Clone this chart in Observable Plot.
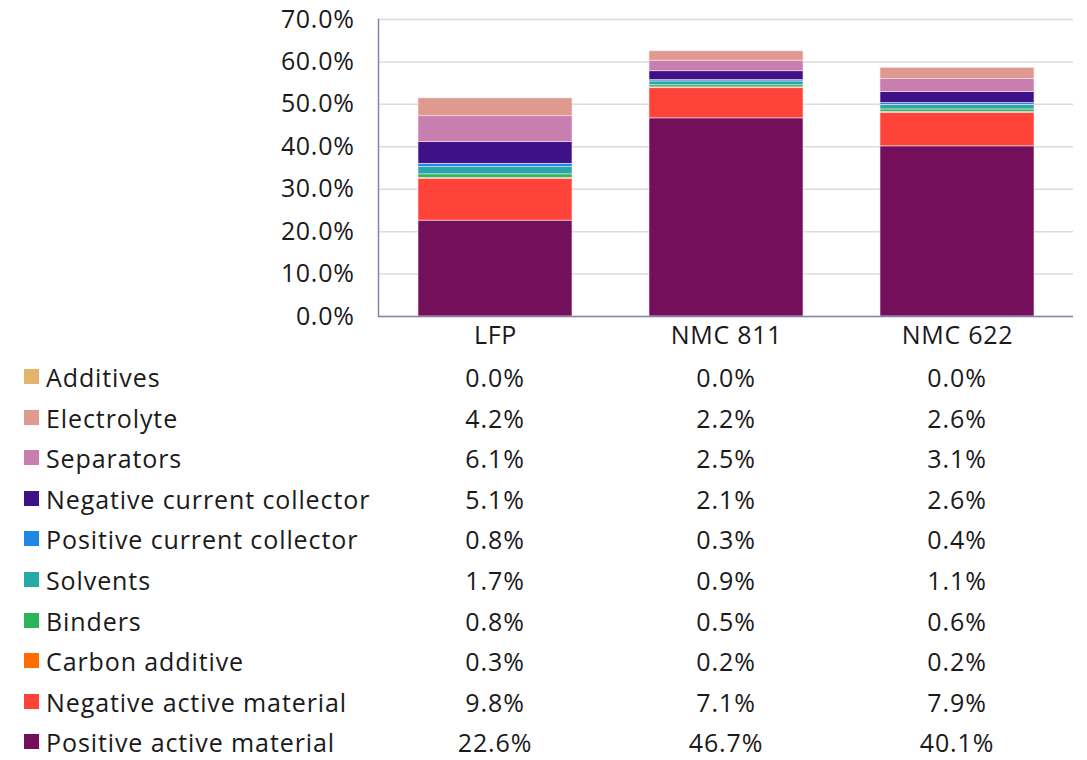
<!DOCTYPE html>
<html>
<head>
<meta charset="utf-8">
<script src="https://cdn.jsdelivr.net/npm/d3@7"></script>
<script src="https://cdn.jsdelivr.net/npm/@observablehq/plot@0.6"></script>
<style>
  body { margin: 0; background: #fff; font-family: "Open Sans", sans-serif; }
  #wrap { position: relative; width: 1087px; height: 760px; overflow: hidden; }
  .row { position: absolute; left: 0; width: 1087px; height: 26px; line-height: 26px; font-size: 25px; font-weight: 400; letter-spacing: 0.9px; color: #1a1a1a; }
  .sw { position: absolute; left: 24px; width: 15px; height: 15px; }
  .lab { position: absolute; left: 46px; top: 0; white-space: nowrap; }
  .val { position: absolute; top: 0; transform: translateX(-50%); white-space: nowrap; }
</style>
</head>
<body>
<div id="wrap"></div>
<script>
const chemistries = ["LFP", "NMC 811", "NMC 622"];
// legend/table order (top to bottom)
const components = ["Additives", "Electrolyte", "Separators", "Negative current collector",
  "Positive current collector", "Solvents", "Binders", "Carbon additive",
  "Negative active material", "Positive active material"];
const colors = ["#e2b46c", "#e0998f", "#c87fb0", "#3e1188", "#1e88e5", "#27a9a8",
  "#2bb558", "#ff6d00", "#ff4338", "#740f5b"];
const valuesLFP    = [0.0, 4.2, 6.1, 5.1, 0.8, 1.7, 0.8, 0.3, 9.8, 22.6];
const valuesNMC811 = [0.0, 2.2, 2.5, 2.1, 0.3, 0.9, 0.5, 0.2, 7.1, 46.7];
const valuesNMC622 = [0.0, 2.6, 3.1, 2.6, 0.4, 1.1, 0.6, 0.2, 7.9, 40.1];
const yTicks = [0, 10, 20, 30, 40, 50, 60, 70];

const series = [valuesLFP, valuesNMC811, valuesNMC622];
const data = [];
chemistries.forEach((c, i) => {
  // stack bottom-up: reverse of table order
  for (let k = components.length - 1; k >= 0; k--) {
    data.push({chem: c, comp: components[k], value: series[i][k] / 100, order: components.length - 1 - k});
  }
});

const fig = Plot.plot({
  width: 1087,
  height: 350,
  marginLeft: 378,
  marginRight: 14,
  marginTop: 19,
  marginBottom: 34,
  style: {fontFamily: "Open Sans, sans-serif", fontSize: "25px", letterSpacing: "0.7px", color: "#1a1a1a", background: "#fff", overflow: "visible"},
  x: {domain: chemistries, paddingInner: 0.335, paddingOuter: 0.1675, label: null},
  y: {domain: [0, 0.7], label: null},
  color: {domain: components, range: colors},
  marks: [
    Plot.gridY(yTicks.map(d => d / 100), {stroke: "#dcdcdc", strokeOpacity: 1, strokeWidth: 1.5}),
    Plot.barY(data, Plot.stackY({order: "order"}, {x: "chem", y: "value", fill: "comp", order: "order", stroke: "#fbe4ee", strokeWidth: 0.6})),
    Plot.axisY(yTicks.map(d => d / 100), {tickSize: 0, tickPadding: 24, tickFormat: d3.format(".1%"), fontSize: 25, label: null}),
    Plot.axisX({tickSize: 0, tickPadding: 10, fontSize: 25, label: null}),
    Plot.ruleY([0], {stroke: "#8784aa", strokeWidth: 1.5}),
    Plot.frame({anchor: "left", stroke: "#8784aa", strokeWidth: 1.5})
  ]
});
const wrap = document.getElementById("wrap");
wrap.appendChild(fig);

const xs = fig.scale("x");
const bw = xs.bandwidth;
const centers = chemistries.map(c => xs.apply(c) + bw / 2);

components.forEach((comp, k) => {
  const cy = 377 + k * 40.6;
  const row = document.createElement("div");
  row.className = "row";
  row.style.top = (cy - 13) + "px";
  const sw = document.createElement("div");
  sw.className = "sw";
  sw.style.background = colors[k];
  sw.style.top = "5px";
  row.appendChild(sw);
  const lab = document.createElement("div");
  lab.className = "lab";
  lab.textContent = comp;
  row.appendChild(lab);
  series.forEach((s, i) => {
    const v = document.createElement("div");
    v.className = "val";
    v.style.left = centers[i] + "px";
    v.textContent = s[k].toFixed(1) + "%";
    row.appendChild(v);
  });
  wrap.appendChild(row);
});
</script>
</body>
</html>
